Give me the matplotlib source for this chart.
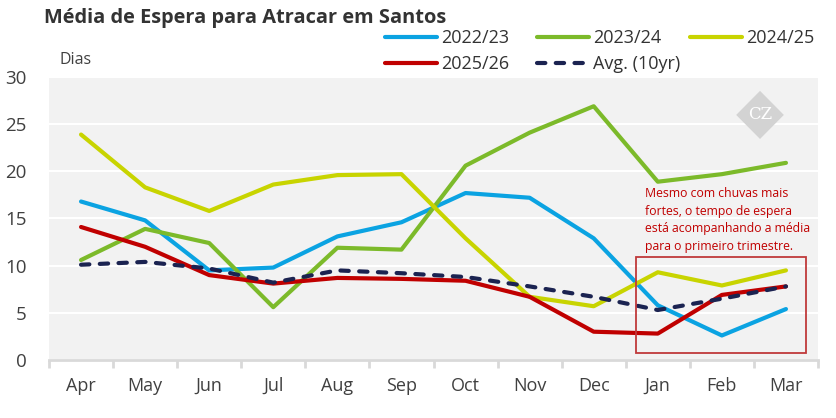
import matplotlib
matplotlib.use('Agg')
import matplotlib.pyplot as plt
from matplotlib.patches import Rectangle, Polygon
import numpy as np

plt.rcParams['font.family'] = ['Open Sans', 'DejaVu Sans']

months = ['Apr', 'May', 'Jun', 'Jul', 'Aug', 'Sep', 'Oct', 'Nov', 'Dec', 'Jan', 'Feb', 'Mar']
s2022 = [16.8, 14.8, 9.5, 9.8, 13.1, 14.6, 17.7, 17.2, 12.9, 5.8, 2.6, 5.4]
s2023 = [10.6, 13.9, 12.4, 5.6, 11.9, 11.7, 20.6, 24.1, 26.9, 18.9, 19.7, 20.9]
s2024 = [23.9, 18.3, 15.8, 18.6, 19.6, 19.7, 12.9, 6.7, 5.7, 9.3, 7.9, 9.5]
s2025 = [14.1, 12.0, 9.0, 8.1, 8.7, 8.6, 8.4, 6.7, 3.0, 2.8, 6.9, 7.8]
avg10 = [10.1, 10.4, 9.7, 8.2, 9.5, 9.2, 8.8, 7.8, 6.7, 5.3, 6.5, 7.8]

note = ('Mesmo com chuvas mais\nfortes, o tempo de espera\n'
        'está acompanhando a média\npara o primeiro trimestre.')

fig = plt.figure(figsize=(8.37, 4.18), dpi=100)
ax = fig.add_axes([49/837, 58/418, 769/837, 283/418])
ax.set_facecolor('#f2f2f2')
x = np.arange(len(months))

lw = 3.0
l1, = ax.plot(x, s2022, color='#0ba3e2', lw=lw, label='2022/23', solid_capstyle='round', zorder=3)
l2, = ax.plot(x, s2023, color='#7cba2a', lw=lw, label='2023/24', solid_capstyle='round', zorder=3)
l3, = ax.plot(x, s2024, color='#c8d400', lw=lw, label='2024/25', solid_capstyle='round', zorder=3)
l4, = ax.plot(x, s2025, color='#c00000', lw=lw, label='2025/26', solid_capstyle='round', zorder=4)
l5, = ax.plot(x, avg10, color='#1b2351', lw=lw, ls=(0, (2.0, 2.5)), label='Avg. (10yr)',
              dash_capstyle='round', zorder=5)

ax.set_xlim(-0.5, 11.5)
ax.set_ylim(0, 30)
ax.set_yticks([0, 5, 10, 15, 20, 25, 30])
ax.yaxis.grid(True, color='white', lw=1.5)
ax.set_axisbelow(True)
for s in ['top', 'right', 'left']:
    ax.spines[s].set_visible(False)
ax.spines['bottom'].set_color('#d9d9d9')
ax.spines['bottom'].set_linewidth(2)

ax.set_xticks(x)
ax.set_xticklabels(months)
ax.set_xticks(np.arange(-0.5, 12, 1), minor=True)
ax.tick_params(axis='x', which='major', length=0, pad=12, labelsize=13, labelcolor='#404040')
ax.tick_params(axis='x', which='minor', length=6, width=2, color='#d9d9d9')
ax.tick_params(axis='y', length=0, pad=16, labelsize=13.5, labelcolor='#404040')

# highlight box + note
ax.add_patch(Rectangle((0.763, 0.025), 0.221, 0.339, transform=ax.transAxes,
                       fill=False, edgecolor='#c0393b', lw=1.3, zorder=6))
fig.text(645/837, 1 - 187/418, note, color='#c00000', fontsize=8.8,
         va='top', ha='left', linespacing=1.45)

# watermark
cx, cy, hx, hy = 0.9246, 0.866, 0.031, 0.085
ax.add_patch(Polygon([[cx, cy + hy], [cx + hx, cy], [cx, cy - hy], [cx - hx, cy]],
                     closed=True, transform=ax.transAxes, facecolor='#d3d3d3',
                     edgecolor='none', zorder=1))
ax.text(cx, cy, 'CZ', transform=ax.transAxes, ha='center', va='center',
        color='white', fontsize=12, family='DejaVu Serif', zorder=2)

fig.text(44/837, 1 - 18/418, 'Média de Espera para Atracar em Santos', fontsize=14.4,
         fontweight='bold', color='#333333', va='center', ha='left')
fig.text(60/837, 1 - 60/418, 'Dias', fontsize=11.5, color='#404040', va='center', ha='left')

# legend laid out in fixed-width columns
columns = [([l1, l4], 385), ([l2, l5], 537), ([l3], 690)]
for hs, xpos in columns:
    fig.legend(hs, [h.get_label() for h in hs], ncol=1, frameon=False,
               loc='upper left', bbox_to_anchor=(xpos/837, 1 - 29/418), fontsize=13,
               handlelength=2.9, handletextpad=0.2, labelspacing=0.46,
               borderpad=0, borderaxespad=0, labelcolor='#333333')

fig.savefig('out.png', dpi=100)
